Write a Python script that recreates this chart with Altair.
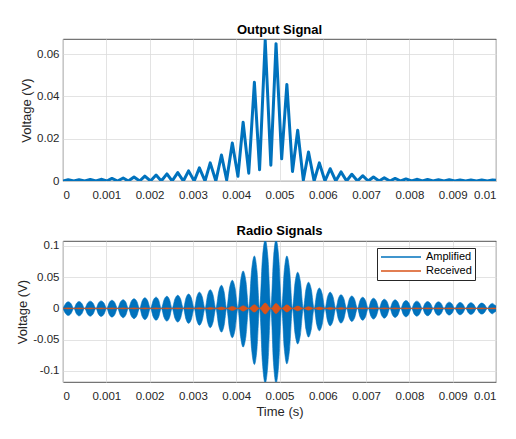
import altair as alt
import pandas as pd

# ---- data ----
# lobe centres (s)
lobe_t = [0.00012, 0.00037, 0.00063, 0.00088, 0.00113, 0.00139, 0.00164, 0.00189, 0.00215, 0.00240,
          0.00265, 0.00290, 0.00315, 0.00340, 0.00366, 0.00391, 0.00416, 0.00442, 0.00467, 0.00492,
          0.00517, 0.00542, 0.00567, 0.00592, 0.00617, 0.00642, 0.00667, 0.00692, 0.00717, 0.00742,
          0.00767, 0.00792, 0.00817, 0.00842, 0.00867, 0.00892, 0.00917, 0.00942, 0.00967, 0.00992]
# necks between lobes, including start and end of the record (s)
trough_t = [0.0, 0.00025, 0.00050, 0.00076, 0.00101, 0.00126, 0.00151, 0.00177, 0.00202, 0.00227, 0.00252,
            0.00278, 0.00303, 0.00328, 0.00353, 0.00378, 0.00404, 0.00429, 0.00454, 0.00480, 0.00505,
            0.00530, 0.00555, 0.00580, 0.00605, 0.00630, 0.00655, 0.00680, 0.00705, 0.00730, 0.00755,
            0.00780, 0.00805, 0.00830, 0.00855, 0.00880, 0.00905, 0.00930, 0.00955, 0.00980, 0.01]

# Output Signal (V)
out_peak = [0.0006, 0.0006, 0.0007, 0.0008, 0.0012, 0.0014, 0.0019, 0.0023, 0.0028, 0.0034,
            0.0040, 0.0048, 0.0062, 0.0086, 0.0123, 0.0180, 0.0278, 0.0467, 0.0666, 0.0650,
            0.0457, 0.0240, 0.0137, 0.0086, 0.0058, 0.0043, 0.0032, 0.0025, 0.0019, 0.0015,
            0.0012, 0.0010, 0.0008, 0.0007, 0.0006, 0.0006, 0.0005, 0.0005, 0.0005, 0.0005]
out_trough = [0.0, 0.0, 0.0, 0.0, 0.0, 0.0, 0.0, 0.0, 0.0, 0.0, 0.0,
              0.0, 0.0, 0.0, 0.0, 0.0005, 0.0022, 0.0037, 0.0053, 0.0075, 0.0105,
              0.0045, 0.0004, 0.0, 0.0, 0.0, 0.0, 0.0, 0.0, 0.0, 0.0,
              0.0, 0.0, 0.0, 0.0, 0.0, 0.0, 0.0, 0.0, 0.0, 0.0003]

# Amplified radio signal envelope (V): lobe peaks, lobe half-way (shoulder) levels, necks
amp_peak_hi = [0.0106, 0.0110, 0.0116, 0.0120, 0.0130, 0.0140, 0.0155, 0.0170, 0.0180, 0.0195,
               0.0210, 0.0230, 0.0260, 0.0300, 0.0370, 0.0450, 0.0600, 0.0840, 0.1100, 0.1100,
               0.0840, 0.0580, 0.0420, 0.0326, 0.0260, 0.0220, 0.0200, 0.0178, 0.0163, 0.0147,
               0.0137, 0.0126, 0.0116, 0.0110, 0.0105, 0.0100, 0.0095, 0.0090, 0.0085, 0.0080]
amp_peak_lo = [-0.0115, -0.0120, -0.0125, -0.0130, -0.0140, -0.0150, -0.0165, -0.0180, -0.0190, -0.0205,
               -0.0220, -0.0240, -0.0270, -0.0310, -0.0380, -0.0470, -0.0620, -0.0900, -0.1200, -0.1200,
               -0.0890, -0.0570, -0.0460, -0.0360, -0.0280, -0.0237, -0.0210, -0.0190, -0.0172, -0.0157,
               -0.0146, -0.0135, -0.0125, -0.0118, -0.0112, -0.0107, -0.0102, -0.0097, -0.0092, -0.0087]
amp_shoulder_hi = [0.0076, 0.0079, 0.0083, 0.0086, 0.0094, 0.0101, 0.0112, 0.0122, 0.0130, 0.0140,
                   0.0151, 0.0166, 0.0187, 0.0216, 0.0266, 0.0324, 0.0432, 0.0605, 0.0792, 0.0792,
                   0.0605, 0.0418, 0.0302, 0.0235, 0.0187, 0.0158, 0.0144, 0.0128, 0.0117, 0.0106,
                   0.0099, 0.0091, 0.0084, 0.0079, 0.0076, 0.0072, 0.0068, 0.0065, 0.0061, 0.0058]
amp_shoulder_lo = [-0.0083, -0.0086, -0.0090, -0.0094, -0.0101, -0.0108, -0.0119, -0.0130, -0.0137, -0.0148,
                   -0.0158, -0.0173, -0.0194, -0.0223, -0.0274, -0.0338, -0.0446, -0.0648, -0.0864, -0.0864,
                   -0.0641, -0.0410, -0.0331, -0.0259, -0.0202, -0.0171, -0.0151, -0.0137, -0.0124, -0.0113,
                   -0.0105, -0.0097, -0.0090, -0.0085, -0.0081, -0.0077, -0.0073, -0.0070, -0.0066, -0.0063]
amp_neck_hi = [0.0, 0.0, 0.0, 0.0, 0.0, 0.0, 0.0, 0.0, 0.0, 0.0, 0.0,
               0.0, 0.0, 0.0, 0.0, 0.0, 0.0, 0.0, 0.0, 0.0, 0.0,
               0.0, 0.0, 0.0, 0.0, 0.0, 0.0, 0.0, 0.0, 0.0, 0.0,
               0.0, 0.0, 0.0, 0.0, 0.0, 0.0, 0.0, 0.0, 0.0, 0.0040]
amp_neck_lo = [0.0, 0.0, 0.0, 0.0, 0.0, 0.0, 0.0, 0.0, 0.0, 0.0, 0.0,
               0.0, 0.0, 0.0, 0.0, 0.0, 0.0, 0.0, 0.0, 0.0, 0.0,
               0.0, 0.0, 0.0, 0.0, 0.0, 0.0, 0.0, 0.0, 0.0, 0.0,
               0.0, 0.0, 0.0, 0.0, 0.0, 0.0, 0.0, 0.0, 0.0, -0.0045]

# Received radio signal envelope (V)
rec_peak_hi = [0.0008, 0.0008, 0.0008, 0.0008, 0.0008, 0.0008, 0.0008, 0.0008, 0.0008, 0.0008,
               0.0008, 0.0008, 0.0011, 0.0015, 0.0021, 0.0031, 0.0042, 0.0058, 0.0085, 0.0080,
               0.0057, 0.0037, 0.0027, 0.0021, 0.0015, 0.0012, 0.0008, 0.0008, 0.0008, 0.0008,
               0.0008, 0.0008, 0.0008, 0.0008, 0.0008, 0.0008, 0.0008, 0.0008, 0.0008, 0.0008]
rec_peak_lo = [-0.0008, -0.0008, -0.0008, -0.0008, -0.0008, -0.0008, -0.0008, -0.0008, -0.0008, -0.0008,
               -0.0008, -0.0008, -0.0011, -0.0015, -0.0022, -0.0033, -0.0044, -0.0060, -0.0090, -0.0082,
               -0.0059, -0.0039, -0.0028, -0.0022, -0.0016, -0.0012, -0.0008, -0.0008, -0.0008, -0.0008,
               -0.0008, -0.0008, -0.0008, -0.0008, -0.0008, -0.0008, -0.0008, -0.0008, -0.0008, -0.0008]
rec_neck_hi = [0.0, 0.0, 0.0, 0.0, 0.0, 0.0, 0.0, 0.0, 0.0, 0.0, 0.0,
               0.0, 0.0, 0.0, 0.0, 0.0, 0.0, 0.0, 0.0, 0.0, 0.0,
               0.0, 0.0, 0.0, 0.0, 0.0, 0.0, 0.0, 0.0, 0.0, 0.0,
               0.0, 0.0, 0.0, 0.0, 0.0, 0.0, 0.0, 0.0, 0.0, 0.0004]
rec_neck_lo = [0.0, 0.0, 0.0, 0.0, 0.0, 0.0, 0.0, 0.0, 0.0, 0.0, 0.0,
               0.0, 0.0, 0.0, 0.0, 0.0, 0.0, 0.0, 0.0, 0.0, 0.0,
               0.0, 0.0, 0.0, 0.0, 0.0, 0.0, 0.0, 0.0, 0.0, 0.0,
               0.0, 0.0, 0.0, 0.0, 0.0, 0.0, 0.0, 0.0, 0.0, -0.0004]

x_ticks = [0, 0.001, 0.002, 0.003, 0.004, 0.005, 0.006, 0.007, 0.008, 0.009, 0.01]
y_ticks_top = [0, 0.02, 0.04, 0.06]
y_ticks_bottom = [-0.1, -0.05, 0, 0.05, 0.1]
series_names = ["Amplified", "Received"]
series_colors = ["#0072BD", "#D95319"]

FONT = "Liberation Sans"
TEXT = "#262626"


def interleave(necks, peaks):
    """neck, peak, neck, peak, ..., neck"""
    out = []
    for i in range(len(peaks)):
        out.append(necks[i])
        out.append(peaks[i])
    out.append(necks[-1])
    return out


def with_shoulders(necks, shoulders, peaks):
    """neck, shoulder, peak, shoulder, neck, ... (shoulders half-way between neck and peak)"""
    out = []
    for i in range(len(peaks)):
        out += [necks[i], shoulders[i], peaks[i], shoulders[i]]
    out.append(necks[-1])
    return out


t_np = interleave(trough_t, lobe_t)
t_sh = []
for i in range(len(lobe_t)):
    t_sh += [trough_t[i], (trough_t[i] + lobe_t[i]) / 2, lobe_t[i], (lobe_t[i] + trough_t[i + 1]) / 2]
t_sh.append(trough_t[-1])

top_df = pd.DataFrame({"t": t_np, "v": interleave(out_trough, out_peak)})

bottom_df = pd.concat([
    pd.DataFrame({"t": t_sh,
                  "hi": with_shoulders(amp_neck_hi, amp_shoulder_hi, amp_peak_hi),
                  "lo": with_shoulders(amp_neck_lo, amp_shoulder_lo, amp_peak_lo),
                  "series": series_names[0]}),
    pd.DataFrame({"t": t_np, "hi": interleave(rec_neck_hi, rec_peak_hi),
                  "lo": interleave(rec_neck_lo, rec_peak_lo), "series": series_names[1]}),
], ignore_index=True)

xscale = alt.Scale(domain=[0, 0.01], nice=False, zero=False)


def title(text):
    return alt.TitleParams(text, font=FONT, fontSize=13, fontWeight="bold", color="#000000",
                           offset=-8, baseline="alphabetic", anchor="middle", frame="group")


top = alt.Chart(top_df).mark_line(
    color=series_colors[0], strokeWidth=3, strokeJoin="round", clip=True
).encode(
    x=alt.X("t:Q", scale=xscale,
            axis=alt.Axis(values=x_ticks, format=".3~f", title=None)),
    y=alt.Y("v:Q", scale=alt.Scale(domain=[0, 0.0672], nice=False),
            axis=alt.Axis(values=y_ticks_top, format=".2~f", title="Voltage (V)")),
).properties(width=433, height=142, title=title("Output Signal"))

legend = alt.Legend(title=None, orient="none", legendX=314, legendY=7,
                    symbolType="stroke", symbolSize=1600, symbolStrokeWidth=1.6,
                    clipHeight=12, labelFont=FONT, labelFontSize=11, labelColor="#000000",
                    labelOffset=4, padding=3, rowPadding=2,
                    strokeColor=TEXT, fillColor="#ffffff", cornerRadius=0)

bottom = alt.Chart(bottom_df).mark_area(
    interpolate="monotone", strokeWidth=0.6, clip=True, opacity=1
).encode(
    x=alt.X("t:Q", scale=xscale,
            axis=alt.Axis(values=x_ticks, format=".3~f", title="Time (s)")),
    y=alt.Y("hi:Q", scale=alt.Scale(domain=[-0.118, 0.108], nice=False),
            axis=alt.Axis(values=y_ticks_bottom, format=".2~f", title="Voltage (V)",
                          labelExpr="replace(datum.label, '\u2212', '-')")),
    y2="lo:Q",
    fill=alt.Fill("series:N", scale=alt.Scale(domain=series_names, range=series_colors), legend=legend),
    stroke=alt.Stroke("series:N", scale=alt.Scale(domain=series_names, range=series_colors), legend=legend),
    order=alt.Order("series:N"),
).properties(width=433, height=141, title=title("Radio Signals"))

chart = alt.vconcat(top, bottom, spacing=23).resolve_legend(
    fill="independent", stroke="independent"
).properties(
    padding={"left": 8, "top": 15, "right": 10, "bottom": 5},
    background="#ffffff",
).configure_view(
    stroke=TEXT, strokeWidth=0.8,
).configure_axis(
    labelFont=FONT, labelFontSize=11.5, labelColor=TEXT,
    titleFont=FONT, titleFontSize=13, titleColor=TEXT, titleFontWeight="normal",
    gridColor="#dcdcdc", gridWidth=0.8, gridOpacity=1,
    domain=False, ticks=False, tickSize=0,
).configure_axisX(
    labelPadding=8, titlePadding=4,
).configure_axisY(
    labelPadding=4, titlePadding=3,
)

chart.save("out.html", embed_options={"renderer": "svg", "actions": False})
